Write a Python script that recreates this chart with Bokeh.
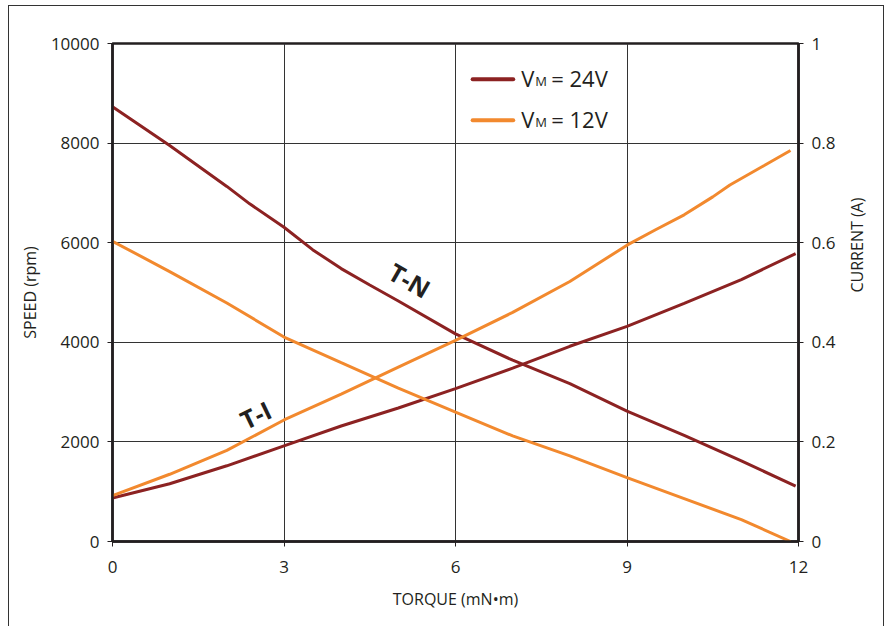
from bokeh.plotting import figure
from bokeh.models import Range1d, LinearAxis, FixedTicker, Label, InlineStyleSheet, Title
from bokeh.embed import file_html
from bokeh.resources import INLINE
import math

# ---- data ----
torque_24v = [0, 1, 2, 2.4, 3, 3.5, 4, 4.5, 5, 6, 7, 8, 9, 10, 11, 11.95]
speed_24v = [8730, 7950, 7130, 6780, 6310, 5860, 5480, 5150, 4830, 4170, 3640, 3170, 2620, 2130, 1620, 1110]

current_x_24v = [0, 1, 2, 3, 4, 5, 6, 7, 8, 9, 10, 11, 11.95]
current_24v = [0.0875, 0.116, 0.152, 0.192, 0.232, 0.268, 0.307, 0.348, 0.392, 0.432, 0.478, 0.526, 0.578]

torque_12v = [0, 1, 2, 3, 4, 5, 6, 7, 8, 9, 10, 11, 11.86]
speed_12v = [6030, 5420, 4790, 4105, 3590, 3080, 2600, 2120, 1720, 1281, 860, 440, 0]

current_x_12v = [0, 1, 2, 3, 4, 5, 6, 7, 8, 9, 9.5, 10, 10.5, 10.8, 11.4, 11.86]
current_12v = [0.092, 0.135, 0.183, 0.244, 0.296, 0.350, 0.404, 0.460, 0.522, 0.595, 0.626, 0.656, 0.692, 0.716, 0.755, 0.785]

x_ticks = [0, 3, 6, 9, 12]
speed_ticks = [0, 2000, 4000, 6000, 8000, 10000]
current_ticks = [0, 0.2, 0.4, 0.6, 0.8, 1.0]
current_tick_labels = ["0", "0.2", "0.4", "0.6", "0.8", "1"]

series_labels = ["24V", "12V"]

RED = "#8C2222"
ORANGE = "#F2892E"
INK = "#231F20"
FONT = "Open Sans"

border_css = InlineStyleSheet(css="""
:host::after {
  content: '';
  position: absolute;
  left: 8px; top: 5px; right: 3px; bottom: 0px;
  border: 1.5px solid #333333;
  border-bottom: none;
  pointer-events: none;
}
""")

p = figure(width=887, height=626, x_range=Range1d(0, 12), y_range=Range1d(0, 10000),
           output_backend="svg", toolbar_location=None,
           min_border_left=112, min_border_right=89, min_border_top=43, min_border_bottom=85)
p.extra_y_ranges = {"current": Range1d(0, 1)}
p.stylesheets = [border_css]

p.outline_line_color = INK
p.outline_line_width = 2.5

for g in (p.xgrid, p.ygrid):
    g.grid_line_color = "#333333"
    g.grid_line_width = 1
p.xgrid.ticker = FixedTicker(ticks=x_ticks)
p.ygrid.ticker = FixedTicker(ticks=speed_ticks)

def style_axis(ax):
    ax.axis_line_color = INK
    ax.axis_line_width = 2.5
    ax.major_tick_line_color = INK
    ax.major_tick_line_width = 1
    ax.major_tick_in = 0
    ax.major_tick_out = 5
    ax.minor_tick_line_color = None
    ax.major_label_text_font = FONT
    ax.major_label_text_font_size = "17px"
    ax.major_label_text_color = INK
    ax.axis_label_text_font = FONT
    ax.axis_label_text_font_size = "16px"
    ax.axis_label_text_font_style = "normal"
    ax.axis_label_text_color = INK
    ax.major_label_standoff = 8

xa = p.xaxis[0]
xa.ticker = FixedTicker(ticks=x_ticks)
xa.axis_label = "TORQUE (mN\u2022m)"
style_axis(xa)
xa.major_label_standoff = 14
xa.axis_label_standoff = 12

ya = p.yaxis[0]
ya.ticker = FixedTicker(ticks=speed_ticks)
ya.axis_label = "SPEED (rpm)"
style_axis(ya)
ya.axis_label_standoff = 7

ra = LinearAxis(y_range_name="current", ticker=FixedTicker(ticks=current_ticks))
ra.major_label_overrides = {t: l for t, l in zip(current_ticks, current_tick_labels)}
style_axis(ra)
ra.axis_label_standoff = 19
try:
    ra.axis_label_orientation = math.pi / 2
    ra.axis_label = "CURRENT (A)"
    p.add_layout(ra, "right")
except AttributeError:
    p.add_layout(ra, "right")
    p.add_layout(Title(text="CURRENT (A)", align="center", text_font=FONT,
                       text_font_size="16px", text_font_style="normal",
                       text_color=INK), "right")

# curves
p.line(torque_24v, speed_24v, line_color=RED, line_width=3)
p.line(current_x_24v, current_24v, line_color=RED, line_width=3, y_range_name="current")
p.line(torque_12v, speed_12v, line_color=ORANGE, line_width=3)
p.line(current_x_12v, current_12v, line_color=ORANGE, line_width=3, y_range_name="current")

# curve labels
p.add_layout(Label(x=5.2, y=5250, text="T-N", angle=-0.52, text_align="center",
                   text_baseline="middle", text_font=FONT, text_font_size="25px",
                   text_font_style="bold", text_color=INK))
p.add_layout(Label(x=2.5, y=2550, text="T-I", angle=0.45, text_align="center",
                   text_baseline="middle", text_font=FONT, text_font_size="25px",
                   text_font_style="bold", text_color=INK))

# manual legend (with subscript M)
leg_x0, leg_x1 = 6.30, 7.01
leg_rows = [(9280, RED, series_labels[0]), (8460, ORANGE, series_labels[1])]
for ly, col, lab in leg_rows:
    p.line([leg_x0, leg_x1], [ly, ly], line_color=col, line_width=4, line_cap="round")
    p.add_layout(Label(x=7.15, y=ly, y_offset=1, text="V", text_font=FONT,
                       text_font_size="22px", text_color=INK, text_baseline="alphabetic"))
    p.add_layout(Label(x=7.15, y=ly, x_offset=14, y_offset=-2, text="M", text_font=FONT,
                       text_font_size="13px", text_color=INK, text_baseline="alphabetic"))
    p.add_layout(Label(x=7.15, y=ly, x_offset=30, y_offset=1, text="= " + lab, text_font=FONT,
                       text_font_size="22px", text_color=INK, text_baseline="alphabetic"))

open("out.html", "w").write(file_html(p, INLINE))
